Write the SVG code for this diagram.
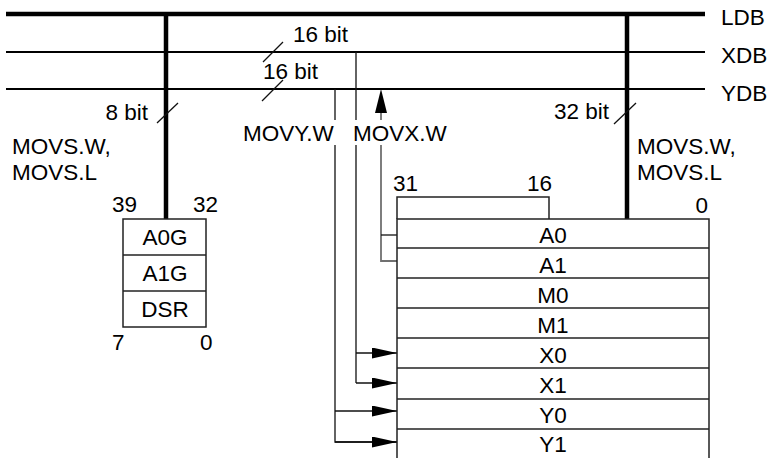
<svg xmlns="http://www.w3.org/2000/svg" width="771" height="458" viewBox="0 0 771 458">
<defs>
<style>
text{font-family:"Liberation Sans",Arial,sans-serif;font-size:22.5px;fill:#000}
.c{text-anchor:middle}
.e{text-anchor:end}
.bus{stroke:#000;fill:none}
.thin{stroke:#111;stroke-width:1.3;fill:none}
.gray{stroke:#707070;stroke-width:1.8;fill:none}
.box{stroke:#222;stroke-width:1.5;fill:#fff}
</style>
<marker id="ah" viewBox="0 0 25 11" refX="25" refY="5.5" markerWidth="25" markerHeight="11" markerUnits="userSpaceOnUse" orient="auto">
<path d="M0,0 L25,5.5 L0,11 Z" fill="#000"/>
</marker>
</defs>
<g id="buses">
<line class="bus" x1="6" y1="14" x2="705" y2="14" stroke-width="4.5"/>
<line class="bus" x1="6" y1="52" x2="705" y2="52" stroke-width="2"/>
<line class="bus" x1="6" y1="89" x2="705" y2="89" stroke-width="2"/>
<text x="721" y="25">LDB</text>
<text x="721" y="63">XDB</text>
<text x="721" y="101">YDB</text>
</g>
<g id="connectors">
<line class="bus" x1="166" y1="14" x2="166" y2="219" stroke-width="4.5"/>
<line class="bus" x1="627" y1="14" x2="627" y2="219" stroke-width="4.5"/>
<line class="thin" x1="283" y1="42" x2="263" y2="62"/>
<line class="thin" x1="283" y1="80" x2="262" y2="101"/>
<line class="thin" x1="178" y1="103" x2="157" y2="123"/>
<line class="thin" x1="636" y1="103" x2="614" y2="124"/>
<path class="thin" d="M335,89 V120 M335,145 V442 H397"/>
<path class="thin" d="M335,411 H397" marker-end="url(#ah)"/>
<path class="thin" d="M335,442 H397" marker-end="url(#ah)"/>
<path class="thin" d="M356,52 V120 M356,145 V383"/>
<path class="thin" d="M356,353 H397" marker-end="url(#ah)"/>
<path class="thin" d="M356,383 H397" marker-end="url(#ah)"/>
<path class="gray" d="M381,120 V112"/>
<path d="M381,89 L387,113 L375,113 Z" fill="#000"/>
<path class="gray" d="M381,145 V261 H397"/>
<line class="thin" x1="381" y1="235" x2="397" y2="235"/>
</g>
<g id="labels">
<text x="293" y="42">16 bit</text>
<text x="263" y="79">16 bit</text>
<text class="e" x="148" y="120">8 bit</text>
<text class="e" x="609" y="119">32 bit</text>
<text x="12" y="154">MOVS.W,</text>
<text x="12" y="180">MOVS.L</text>
<text x="637" y="154">MOVS.W,</text>
<text x="637" y="180">MOVS.L</text>
<text x="243" y="141">MOVY.W</text>
<text x="353" y="141">MOVX.W</text>
</g>
<g id="guard-regs">
<rect class="box" x="123" y="219" width="83" height="108"/>
<line class="box" x1="123" y1="255" x2="206" y2="255"/>
<line class="box" x1="123" y1="291" x2="206" y2="291"/>
<text class="c" x="165" y="245">A0G</text>
<text class="c" x="165" y="281">A1G</text>
<text class="c" x="165" y="317">DSR</text>
<text x="112" y="212">39</text>
<text x="193" y="212">32</text>
<text x="112" y="350">7</text>
<text x="200" y="350">0</text>
</g>
<g id="main-regs">
<path class="box" d="M397,219 V197 H549 V219" fill="none"/>
<rect class="box" x="397" y="219" width="312" height="241"/>
<line class="box" x1="397" y1="248" x2="709" y2="248"/>
<line class="box" x1="397" y1="278" x2="709" y2="278"/>
<line class="box" x1="397" y1="308" x2="709" y2="308"/>
<line class="box" x1="397" y1="338" x2="709" y2="338"/>
<line class="box" x1="397" y1="368" x2="709" y2="368"/>
<line class="box" x1="397" y1="399" x2="709" y2="399"/>
<line class="box" x1="397" y1="429" x2="709" y2="429"/>
<text class="c" x="553" y="243">A0</text>
<text class="c" x="553" y="273">A1</text>
<text class="c" x="553" y="303">M0</text>
<text class="c" x="553" y="333">M1</text>
<text class="c" x="553" y="363">X0</text>
<text class="c" x="553" y="393">X1</text>
<text class="c" x="553" y="423">Y0</text>
<text class="c" x="553" y="452">Y1</text>
<text x="393" y="191">31</text>
<text class="e" x="552" y="191">16</text>
<text class="e" x="708" y="213">0</text>
</g>
</svg>
